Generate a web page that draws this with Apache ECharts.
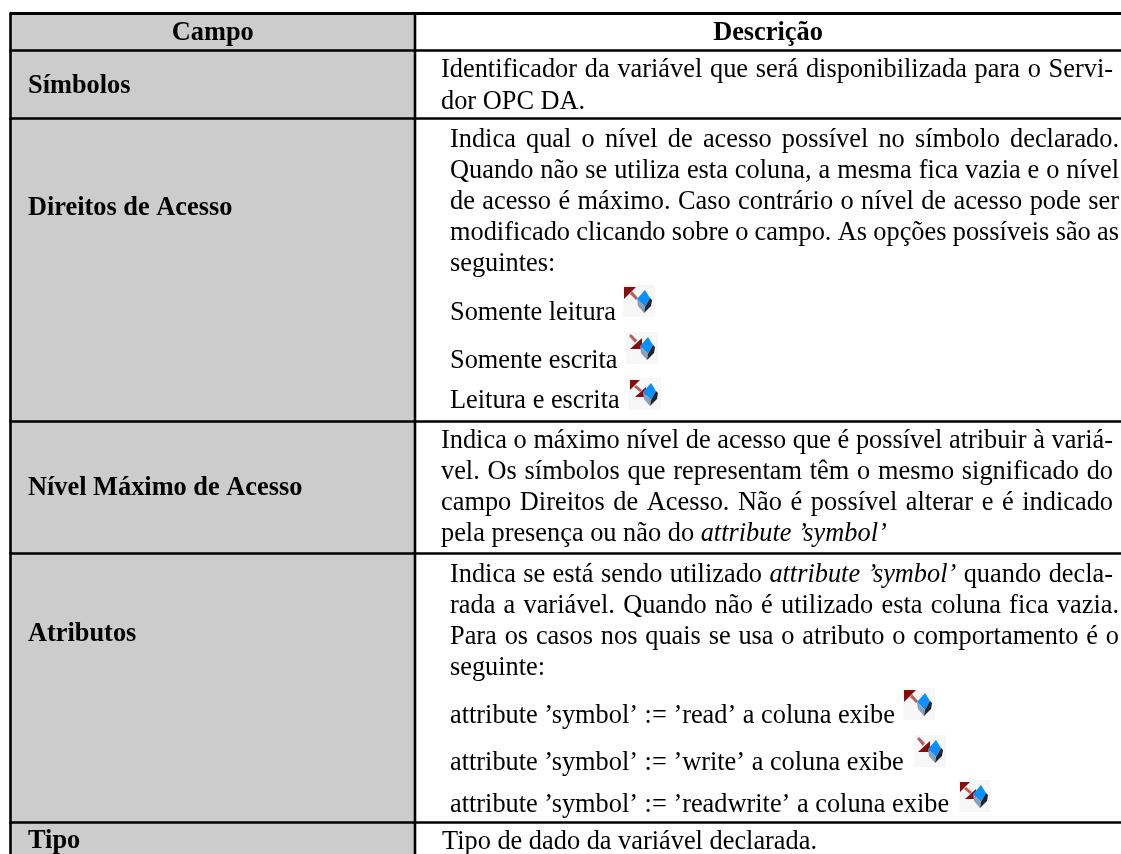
<!DOCTYPE html>
<html><head><meta charset="utf-8">
<style>html,body{margin:0;padding:0;background:#fff}#c{width:1121px;height:854px}</style>
<script src="https://cdn.jsdelivr.net/npm/echarts@6/dist/echarts.min.js"></script>
</head><body><div id="c"></div>
<script>
// ---- table content ----
const columnHeaders = ['Campo', 'Descrição'];
const fieldNames = ['Símbolos', 'Direitos de Acesso', 'Nível Máximo de Acesso', 'Atributos', 'Tipo'];
const simbolosLines = ['Identificador da variável que será disponibilizada para o Servi-', 'dor OPC DA.'];
const direitosLines = ['Indica qual o nível de acesso possível no símbolo declarado.', 'Quando não se utiliza esta coluna, a mesma fica vazia e o nível', 'de acesso é máximo. Caso contrário o nível de acesso pode ser', 'modificado clicando sobre o campo. As opções possíveis são as', 'seguintes:', 'Somente leitura', 'Somente escrita', 'Leitura e escrita'];
const nivelLines = ['Indica o máximo nível de acesso que é possível atribuir à variá-', 'vel. Os símbolos que representam têm o mesmo significado do', 'campo Direitos de Acesso. Não é possível alterar e é indicado', "pela presença ou não do |attribute ’symbol’"];
const atributosLines = ["Indica se está sendo utilizado |attribute ’symbol’| quando decla-", 'rada a variável. Quando não é utilizado esta coluna fica vazia.', 'Para os casos nos quais se usa o atributo o comportamento é o', 'seguinte:', "attribute ’symbol’ := ’read’ a coluna exibe", "attribute ’symbol’ := ’write’ a coluna exibe", "attribute ’symbol’ := ’readwrite’ a coluna exibe"];
const tipoLines = ['Tipo de dado da variável declarada.'];

// ---- layout (pixels, mapped through the hidden axes) ----
const W = 1121, H = 854;
const colX = [10.5, 415, 1121];
const rowY = [13.5, 50.5, 118.5, 421.5, 553.5, 822.5, 854];
const fieldY = [86, 208, 488, 634, 841];
const fieldX = 28;
const SIZE = 26.35;
const serif = '"Liberation Serif","Times New Roman",serif';
// [text, left, centre y, right edge to justify to or 0]
const J = 1119;
const descRows = [
  [simbolosLines[0], 441, 70, 1113], [simbolosLines[1], 441, 102, 0],
  [direitosLines[0], 450, 140, J], [direitosLines[1], 450, 171, J], [direitosLines[2], 450, 202, J], [direitosLines[3], 450, 233, J], [direitosLines[4], 450, 264, 0],
  [direitosLines[5], 450, 313, 0], [direitosLines[6], 450, 361, 0], [direitosLines[7], 450, 401, 0],
  [nivelLines[0], 441, 441, 1113], [nivelLines[1], 441, 472, 1113], [nivelLines[2], 441, 503, 1113], [nivelLines[3], 441, 534, 0],
  [atributosLines[0], 450, 575, 1113], [atributosLines[1], 450, 606, J], [atributosLines[2], 450, 637, J], [atributosLines[3], 450, 668, 0],
  [atributosLines[4], 450, 716, 0], [atributosLines[5], 450, 763, 0], [atributosLines[6], 450, 805, 0],
  [tipoLines[0], 442, 842, 0]
];
const icons = [[623, 285, 'r'], [626, 332, 'w'], [629, 378, 'rw'], [903, 688, 'r'], [914, 735, 'w'], [959, 780, 'rw']];

const ctx = document.createElement('canvas').getContext('2d');
function widthOf(t, font) { ctx.font = font; return ctx.measureText(t).width; }
const fontR = SIZE + 'px ' + serif, fontI = 'italic ' + SIZE + 'px ' + serif, fontB = 'bold ' + SIZE + 'px ' + serif;

function layoutLine(row) {
  const [text, left, y, right] = row;
  const parts = text.split('|');
  const words = [];
  parts.forEach((p, i) => {
    const font = i % 2 ? fontI : fontR;
    p.split(' ').filter(Boolean).forEach(w => words.push({ w, font }));
  });
  const total = words.reduce((s, o) => s + widthOf(o.w, o.font), 0);
  const natural = widthOf(' ', fontR);
  const gap = right && words.length > 1 ? (right - left - total) / (words.length - 1) : natural;
  let x = left;
  return words.map(o => { const r = { t: o.w, x, y, font: o.font }; x += widthOf(o.w, o.font) + gap; return r; });
}

const items = [];
items.push({ k: 'rect', x: colX[0], y: rowY[0], w: colX[1] - colX[0], h: H - rowY[0], fill: '#cccccc' });
rowY.slice(0, 6).forEach(y => items.push({ k: 'line', x1: colX[0] - 1, y1: y, x2: W, y2: y, lw: y === rowY[0] ? 3 : 2.6 }));
items.push({ k: 'line', x1: colX[0], y1: rowY[0], x2: colX[0], y2: H, lw: 2.6 });
items.push({ k: 'line', x1: colX[1], y1: rowY[0], x2: colX[1], y2: H, lw: 2.6 });
items.push({ k: 'text', t: columnHeaders[0], x: (colX[0] + colX[1]) / 2, y: 33, font: fontB, align: 'center' });
items.push({ k: 'text', t: columnHeaders[1], x: (colX[1] + colX[2]) / 2, y: 33, font: fontB, align: 'center' });
fieldNames.forEach((t, i) => items.push({ k: 'text', t, x: fieldX, y: fieldY[i], font: fontB }));
descRows.forEach(r => layoutLine(r).forEach(o => items.push({ k: 'text', t: o.t, x: o.x, y: o.y, font: o.font })));
icons.forEach(i => items.push({ k: 'icon', x: i[0], y: i[1], mode: i[2] }));

function iconChildren(api, it) {
  const p = (dx, dy) => api.coord([it.x + dx, it.y + dy]);
  const poly = (pts, fill) => ({ type: 'polygon', shape: { points: pts.map(a => p(a[0], a[1])) }, style: { fill } });
  const red = '#870c0c', pale = '#b86060';
  const out = [poly([[0, 0], [32, 0], [32, 32], [0, 32]], '#f7f7f7')];
  if (it.mode === 'r') {
    out.push(poly([[9, 6], [7, 9], [13, 15], [15, 13]], pale));
    out.push(poly([[1, 2], [13, 2], [1, 14]], red));
  }
  if (it.mode === 'w') {
    out.push(poly([[3, 4], [5, 2], [11, 8], [9, 11]], pale));
    out.push(poly([[16, 17], [4, 17], [16, 6]], red));
  }
  if (it.mode === 'rw') {
    out.push(poly([[1, 2], [11, 2], [1, 12]], red));
    out.push(poly([[7, 7], [5, 9], [11, 14], [13, 12]], pale));
    out.push(poly([[17, 19], [6, 19], [17, 9]], red));
  }
  out.push(poly([[22, 5], [14, 14], [22, 22], [27, 13]], '#0a90ff'));
  out.push(poly([[14, 14], [22, 22], [21, 28], [15, 21]], '#8aa0b8'));
  out.push(poly([[22, 22], [27, 13], [29, 15], [28, 21], [21, 28]], '#22242b'));
  return out;
}

function renderItem(params, api) {
  const it = items[api.value(0)];
  if (it.k === 'rect') {
    const a = api.coord([it.x, it.y]), b = api.coord([it.x + it.w, it.y + it.h]);
    return { type: 'rect', shape: { x: a[0], y: a[1], width: b[0] - a[0], height: b[1] - a[1] }, style: { fill: it.fill } };
  }
  if (it.k === 'line') {
    const a = api.coord([it.x1, it.y1]), b = api.coord([it.x2, it.y2]);
    return { type: 'line', shape: { x1: a[0], y1: a[1], x2: b[0], y2: b[1] }, style: { stroke: '#000', lineWidth: it.lw } };
  }
  if (it.k === 'text') {
    const a = api.coord([it.x, it.y]);
    return { type: 'text', style: { x: a[0], y: a[1], text: it.t, font: it.font, fill: '#000', align: it.align || 'left', verticalAlign: 'middle' } };
  }
  return { type: 'group', children: iconChildren(api, it) };
}

const chart = echarts.init(document.getElementById('c'), null, { renderer: 'canvas' });
chart.setOption({
  animation: false,
  backgroundColor: '#fff',
  grid: { left: 0, right: 0, top: 0, bottom: 0 },
  xAxis: { type: 'value', min: 0, max: W, show: false },
  yAxis: { type: 'value', min: 0, max: H, inverse: true, show: false },
  series: [{
    type: 'custom', clip: true, silent: true, renderItem,
    data: items.map((_, i) => [i]), encode: { x: 0, y: 0 }
  }]
});
</script></body></html>
